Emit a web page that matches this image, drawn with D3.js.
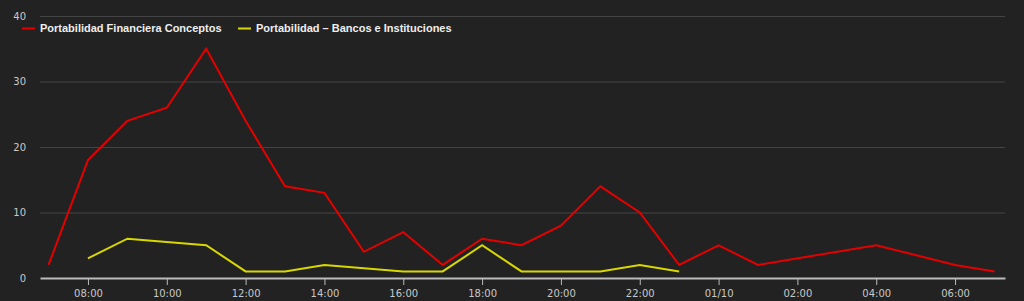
<!DOCTYPE html>
<html><head><meta charset="utf-8">
<script src="https://cdn.jsdelivr.net/npm/d3@7"></script>
<style>
html,body{margin:0;padding:0;background:#222222;}
svg{display:block;}
</style></head>
<body>
<svg id="chart" width="1024" height="301"></svg>
<script>
// Data
const seriesNames = ["Portabilidad Financiera Conceptos", "Portabilidad – Bancos e Instituciones"];
const seriesColors = ["#e50000", "#d8d800"];
const redTimes = ["2015-09-30 07:00","2015-09-30 08:00","2015-09-30 09:00","2015-09-30 10:00","2015-09-30 11:00","2015-09-30 12:00","2015-09-30 13:00","2015-09-30 14:00","2015-09-30 15:00","2015-09-30 16:00","2015-09-30 17:00","2015-09-30 18:00","2015-09-30 19:00","2015-09-30 20:00","2015-09-30 21:00","2015-09-30 22:00","2015-09-30 23:00","2015-10-01 00:00","2015-10-01 01:00","2015-10-01 04:00","2015-10-01 06:00","2015-10-01 07:00"];
const redValues = [2,18,24,26,35,24,14,13,4,7,2,6,5,8,14,10,2,5,2,5,2,1];
const yellowTimes = ["2015-09-30 08:00","2015-09-30 09:00","2015-09-30 11:00","2015-09-30 12:00","2015-09-30 13:00","2015-09-30 14:00","2015-09-30 16:00","2015-09-30 17:00","2015-09-30 18:00","2015-09-30 19:00","2015-09-30 21:00","2015-09-30 22:00","2015-09-30 23:00"];
const yellowValues = [3,6,5,1,1,2,1,1,5,1,1,2,1];
const yTicks = [0,10,20,30,40];
const xStart = "2015-09-30 06:47";
const xEnd = "2015-10-01 07:16";

const parse = d3.timeParse("%Y-%m-%d %H:%M");
const svg = d3.select("#chart");
const margin = {left:40, right:19, top:16, bottom:23};
const W = 1024, H = 301;

const x = d3.scaleTime().domain([parse(xStart), parse(xEnd)]).range([margin.left, W - margin.right]);
const y = d3.scaleLinear().domain([0,40]).range([H - margin.bottom, margin.top]);

// grid
const grid = svg.append("g");
grid.selectAll("line").data(yTicks.filter(d=>d>0)).join("line")
  .attr("x1", margin.left).attr("x2", W - margin.right)
  .attr("y1", d=>y(d)+0.5).attr("y2", d=>y(d)+0.5)
  .attr("stroke", "#444").attr("stroke-width", 1);

// y labels
svg.append("g").selectAll("text").data(yTicks).join("text")
  .attr("x", 26).attr("y", d=>y(d)).attr("dy","0.35em")
  .attr("text-anchor","end")
  .attr("fill","#c8c8c8").attr("font-family","DejaVu Sans, sans-serif").attr("font-size", 10)
  .text(d=>d);

// x axis
const fmt = d => (d.getHours()===0 ? d3.timeFormat("%d/%m")(d) : d3.timeFormat("%H:%M")(d));
const xAxis = d3.axisBottom(x).ticks(d3.timeHour.every(2)).tickFormat(fmt).tickSize(7).tickSizeOuter(0);
const gx = svg.append("g").attr("transform", `translate(0,${y(0)})`).call(xAxis);
gx.select(".domain").attr("stroke","#bbbbbb").attr("stroke-width",2);
gx.selectAll(".tick line").attr("stroke","#bbbbbb").attr("stroke-width",1);
gx.selectAll(".tick text").attr("fill","#c8c8c8").attr("font-family","DejaVu Sans, sans-serif").attr("font-size",10).attr("dy","0.9em");

// lines
const line = d3.line().x(d=>x(d.t)).y(d=>y(d.v));
const red = redTimes.map((t,i)=>({t:parse(t), v:redValues[i]}));
const yel = yellowTimes.map((t,i)=>({t:parse(t), v:yellowValues[i]}));
svg.append("path").datum(yel).attr("d", line).attr("fill","none").attr("stroke",seriesColors[1]).attr("stroke-width",2).attr("stroke-linejoin","miter");
svg.append("path").datum(red).attr("d", line).attr("fill","none").attr("stroke",seriesColors[0]).attr("stroke-width",2).attr("stroke-linejoin","miter");

// legend
const legX = [22, 238];
const lg = svg.append("g");
seriesNames.forEach((n,i)=>{
  lg.append("line").attr("x1",legX[i]).attr("x2",legX[i]+13).attr("y1",28.5).attr("y2",28.5).attr("stroke",seriesColors[i]).attr("stroke-width",2);
  lg.append("text").attr("x",legX[i]+18).attr("y",28).attr("dy","0.35em")
    .attr("fill","#eeeeee").attr("font-family","Liberation Sans, Arial, sans-serif").attr("font-weight","bold").attr("font-size",11)
    .text(n);
});
</script>
</body></html>
